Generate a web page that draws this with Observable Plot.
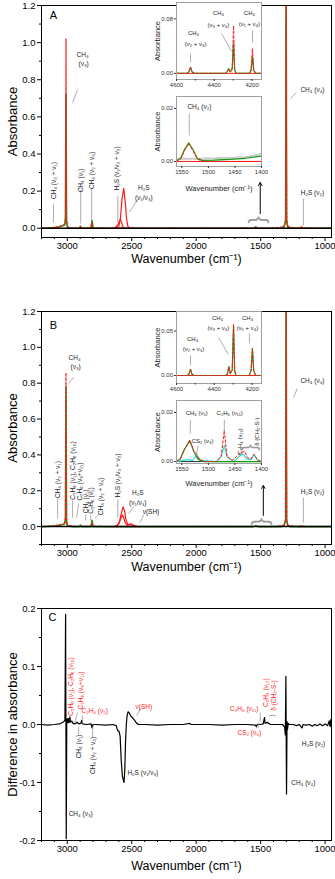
<!DOCTYPE html>
<html><head><meta charset="utf-8">
<script src="https://cdn.jsdelivr.net/npm/d3@7"></script>
<script src="https://cdn.jsdelivr.net/npm/@observablehq/plot@0.6"></script>
<style>
html,body{margin:0;padding:0;background:#fff}
#fig{position:relative;width:335px;height:879px;overflow:hidden;font-family:"Liberation Sans",Arial,sans-serif}
#fig svg{position:absolute;max-width:none}
</style></head><body><div id="fig"></div>
<script>
// ---------- ticks ----------
const xMajor = [3000, 2500, 2000, 1500, 1000];
const xMinor = [3200, 3100, 2900, 2800, 2700, 2600, 2400, 2300, 2200, 2100, 1900, 1800, 1700, 1600, 1400, 1300, 1200, 1100];
const yMajorAB = [0, 0.2, 0.4, 0.6, 0.8, 1.0, 1.2];
const yMinorA = [0.1, 0.3, 0.5, 0.7, 0.9, 1.1];
const yMinorB = [-0.1, 0.1, 0.3, 0.5, 0.7, 0.9, 1.1];
const yMajorC = [-0.2, -0.1, 0, 0.1, 0.2];
const yMinorC = [-0.15, -0.05, 0.05, 0.15];
const i1XMajor = [4600, 4400, 4200];
const i1XMinor = [4500, 4300];
const i2XMajor = [1550, 1500, 1450, 1400];
const aI1YTicks = [0, 0.08];
const bI1YTicks = [0, 0.05];
const i2YTicks = [0, 0.02];
const xTitle = "Wavenumber (cm⁻¹)";

// ---------- panel A spectra [wavenumber, absorbance] ----------
const aCH4Red = [[3200,0],[3150,0.001],[3100,0.004],[3070,0.008],[3045,0.013],[3030,0.018],[3020,0.022],[3014,0.06],[3010,1.02],[3006,0.05],[3000,0.012],[2990,0.003],[2960,0.001],[2904,0.001],[2898,0.009],[2892,0.001],[2820,0.002],[2808,0.03],[2800,0.002],[2700,0],[1560,0],[1545,0.002],[1537,0.006],[1528,0.001],[1515,0],[1400,0],[1360,0.003],[1330,0.008],[1315,0.012],[1306,0.05],[1302,1.3],[1298,0.05],[1290,0.012],[1270,0.006],[1240,0.002],[1200,0],[950,0]];
const aCH4Green = [[3200,0],[3150,0.001],[3100,0.003],[3060,0.008],[3035,0.013],[3020,0.018],[3014,0.05],[3010,0.72],[3006,0.04],[3000,0.01],[2990,0.002],[2960,0],[2904,0],[2898,0.011],[2892,0],[2815,0],[2808,0.042],[2800,0],[1560,0],[1545,0.002],[1537,0.007],[1528,0.001],[1515,0],[1340,0],[1320,0.005],[1306,0.04],[1302,1.3],[1298,0.04],[1290,0.005],[1270,0],[950,0]];
const aH2S1 = [[2660,0],[2630,0.004],[2610,0.015],[2598,0.035],[2588,0.048],[2578,0.03],[2570,0.01],[2560,0.002],[2540,0]];
const aH2S2 = [[2620,0],[2600,0.01],[2588,0.05],[2575,0.16],[2562,0.215],[2550,0.14],[2540,0.05],[2530,0.01],[2515,0.002],[2490,0]];
const aH2Sv2 = [[1210,0],[1190,0.002],[1183,0.008],[1176,0.002],[1160,0]];

// panel A insets
const aI1Red = [[4600,0],[4545,0],[4535,0.002],[4526,0.009],[4517,0.002],[4505,0],[4340,0],[4330,0.003],[4323,0.006],[4315,0.002],[4305,0.008],[4298,0.07],[4292,0.006],[4285,0],[4215,0],[4205,0.005],[4198,0.036],[4191,0.005],[4180,0],[4150,0]];
const aI1Green = [[4600,0],[4545,0],[4535,0.002],[4526,0.009],[4517,0.002],[4505,0],[4340,0],[4330,0.003],[4323,0.007],[4315,0.002],[4305,0.006],[4298,0.044],[4292,0.005],[4285,0],[4215,0],[4205,0.004],[4198,0.025],[4191,0.004],[4180,0],[4150,0]];
const aI2Red = [[1560,0],[1552,0.001],[1545,0.004],[1537,0.0068],[1529,0.004],[1521,0.001],[1512,0],[1400,0]];
const aI2Green = [[1560,0.0003],[1552,0.0012],[1545,0.0045],[1537,0.007],[1529,0.0045],[1521,0.0012],[1512,0.0004],[1490,0.0005],[1460,0.0008],[1430,0.0012],[1400,0.002]];
const aI2Gray1 = [[1560,0.0012],[1550,0.0015],[1540,0.001],[1530,0.0013],[1520,0.0011],[1505,0.0014],[1490,0.0012],[1475,0.0016],[1460,0.0013],[1445,0.0017],[1430,0.0018],[1415,0.0024],[1400,0.0031]];
const aI2Gray2 = [[1560,0.0007],[1540,0.0009],[1520,0.0008],[1500,0.001],[1480,0.0011],[1460,0.0012],[1440,0.0013],[1420,0.0019],[1400,0.0026]];

// ---------- panel B spectra ----------
const bCH4Red = [[3200,0],[3150,0.001],[3100,0.004],[3070,0.008],[3045,0.012],[3030,0.016],[3020,0.02],[3014,0.05],[3010,0.86],[3006,0.04],[3000,0.01],[2990,0.004],[2975,0.006],[2960,0.002],[2904,0.001],[2898,0.007],[2892,0.001],[2820,0.002],[2808,0.022],[2800,0.002],[2700,0],[1560,0],[1545,0.001],[1537,0.004],[1528,0.001],[1515,0],[1400,0],[1360,0.003],[1330,0.007],[1315,0.01],[1306,0.04],[1302,1.3],[1298,0.04],[1290,0.01],[1270,0.005],[1240,0.002],[1200,0],[950,0]];
const bCH4Green = [[3200,0],[3150,0.001],[3100,0.003],[3060,0.008],[3035,0.012],[3020,0.016],[3014,0.045],[3010,0.78],[3006,0.035],[3000,0.008],[2990,0.002],[2960,0],[2904,0],[2898,0.008],[2892,0],[2815,0],[2808,0.035],[2800,0],[1560,0],[1545,0.002],[1537,0.005],[1528,0.001],[1515,0],[1340,0],[1320,0.004],[1306,0.035],[1302,1.3],[1298,0.035],[1290,0.004],[1270,0],[950,0]];
const bH2S1 = [[2640,0],[2610,0.008],[2592,0.03],[2575,0.065],[2562,0.05],[2550,0.02],[2535,0.008],[2510,0.012],[2490,0.008],[2470,0.002],[2450,0]];
const bH2S2 = [[2620,0],[2600,0.015],[2585,0.06],[2568,0.11],[2556,0.09],[2545,0.04],[2530,0.01],[2505,0.015],[2485,0.006],[2460,0]];
const bH2Sv2 = [[1210,0],[1190,0.001],[1183,0.004],[1176,0.001],[1160,0]];

// panel B insets
const bI1Red = [[4600,0],[4545,0],[4535,0.001],[4526,0.007],[4517,0.001],[4505,0],[4340,0],[4330,0.002],[4323,0.01],[4315,0.002],[4305,0.006],[4298,0.058],[4292,0.005],[4285,0],[4215,0],[4205,0.006],[4198,0.031],[4191,0.005],[4180,0],[4150,0]];
const bI1Green = [[4600,0],[4545,0],[4535,0.001],[4526,0.007],[4517,0.001],[4505,0],[4340,0],[4330,0.002],[4323,0.01],[4315,0.002],[4305,0.006],[4298,0.056],[4292,0.005],[4285,0],[4215,0],[4205,0.006],[4198,0.03],[4191,0.005],[4180,0],[4150,0]];
const bI2Red = [[1560,0],[1553,0.001],[1545,0.005],[1535,0.0088],[1527,0.004],[1522,0.0032],[1517,0.001],[1508,0],[1485,0],[1476,0.002],[1470,0.0127],[1465,0.002],[1455,0.0005],[1447,0.002],[1440,0.0035],[1432,0.0042],[1426,0.0015],[1420,0.001],[1414,0.003],[1408,0.0008],[1400,0]];
const bI2Green = [[1560,0],[1553,0.001],[1545,0.005],[1535,0.0085],[1527,0.004],[1520,0.001],[1508,0],[1400,0]];
const bI2Cyan = [[1560,0],[1540,0.0008],[1530,0.0005],[1522,0.0025],[1516,0.0005],[1485,0],[1476,0.002],[1470,0.0065],[1465,0.002],[1452,0],[1445,0.0015],[1440,0.0025],[1434,0.003],[1428,0.001],[1420,0.0008],[1414,0.0028],[1408,0.0006],[1400,0]];

// ---------- panel C difference spectrum ----------
const cDiff = [[3200,0],[3150,-0.001],[3100,0],[3060,0.001],[3040,0.003],[3026,0.005],[3018,0.008],[3013,0.19],[3008,-0.197],[3004,0.005],[3000,0.01],[2996,0.003],[2990,0.01],[2986,0.003],[2980,0.013],[2975,0.004],[2965,0.006],[2955,0.002],[2940,0.001],[2925,0.004],[2910,0.001],[2895,0.002],[2888,0.007],[2882,0.001],[2850,0],[2815,0.001],[2808,-0.006],[2800,0],[2780,0],[2700,-0.001],[2650,0],[2620,-0.002],[2610,-0.01],[2598,-0.012],[2590,-0.02],[2582,-0.06],[2572,-0.09],[2560,-0.1],[2554,-0.08],[2548,-0.03],[2542,0],[2536,0.015],[2528,0.022],[2520,0.02],[2508,0.015],[2495,0.012],[2480,0.008],[2465,0.003],[2450,0],[2400,0],[2300,-0.001],[2200,0],[2100,0],[2050,0.002],[2040,0],[1900,0],[1800,-0.001],[1700,0],[1600,0],[1540,-0.001],[1533,-0.004],[1526,0],[1500,0],[1480,0.001],[1470,0.012],[1465,0.002],[1445,0.004],[1440,0.002],[1420,0],[1380,0],[1330,0],[1314,-0.004],[1308,-0.018],[1304,0.083],[1299,-0.12],[1295,0.005],[1291,-0.008],[1286,0.002],[1280,0],[1250,0],[1220,-0.002],[1200,0],[1185,-0.004],[1178,-0.006],[1170,0],[1150,-0.001],[1120,0],[1100,-0.003],[1080,0],[1060,-0.002],[1040,0.001],[1020,-0.002],[1000,0.001],[980,-0.002],[968,0.006],[962,-0.003],[958,0.008],[952,-0.004],[950,0.003]];

// ---------- annotations (data coordinates) ----------
const annA = [
  {label:"CH₄", x:2881, y:0.936},{label:"(ν₃)", x:2873, y:0.8875},
  {label:"H₂S", x:2406, y:0.219},{label:"(ν₁/ν₃)", x:2406, y:0.166},
  {label:"CH₄ (ν₄)", x:1098, y:0.747},{label:"H₂S (ν₂)", x:1098, y:0.192}];
const annARot = [
  {label:"CH₄ (ν₃ + ν₁)", x:3107, y:0.257},{label:"CH₄ (ν₁)", x:2896, y:0.257},
  {label:"CH₄ (ν₂ + ν₄)", x:2811, y:0.311},{label:"H₂S (ν₁/ν₃ + ν₂)", x:2612, y:0.322}];
const leadA = [
  {x1:3107,y1:0.133,x2:3107,y2:0.031},{x1:2896,y1:0.203,x2:2896,y2:0.025},
  {x1:2811,y1:0.214,x2:2811,y2:0.042},{x1:2608,y1:0.176,x2:2608,y2:0.031},
  {x1:2920,y1:0.747,x2:2959,y2:0.677},{x1:2453,y1:0.155,x2:2515,y2:0.09},
  {x1:1222,y1:0.731,x2:1269,y2:0.699},{x1:1168,y1:0.16,x2:1168,y2:0.015}];
const annB = [
  {label:"CH₄", x:2943, y:0.943},{label:"(ν₃)", x:2935, y:0.893},
  {label:"H₂S", x:2453, y:0.19},{label:"(ν₁/ν₃)", x:2453, y:0.134},
  {label:"ν(SH)", x:2351, y:0.084},
  {label:"CH₄ (ν₄)", x:1098, y:0.815},{label:"H₂S (ν₂)", x:1098, y:0.196}];
const annBRot = [
  {label:"CH₄ (ν₃ + ν₁)", x:3075, y:0.262},{label:"C₂H₆ (ν₁), C₂H₆ (ν₁₀)", x:2959, y:0.313},
  {label:"C₂H₆ (ν₈+ν₁₁)", x:2904, y:0.251},{label:"CH₄ (ν₁)", x:2857, y:0.14},
  {label:"C₂H₆ (ν₅)", x:2819, y:0.145},{label:"CH₄ (ν₂ + ν₄)", x:2741, y:0.168},
  {label:"H₂S (ν₁/ν₃ + ν₂)", x:2608, y:0.285}];
const leadB = [
  {x1:2951,y1:0.832,x2:2990,y2:0.798},{x1:3075,y1:0.156,x2:3075,y2:0.045},
  {x1:2959,y1:0.145,x2:2959,y2:0.05},{x1:2912,y1:0.128,x2:2927,y2:0.05},
  {x1:2857,y1:0.067,x2:2857,y2:0.034},{x1:2819,y1:0.062,x2:2819,y2:0.034},
  {x1:2748,y1:0.073,x2:2787,y2:0.045},{x1:2608,y1:0.151,x2:2608,y2:0.05},
  {x1:2484,y1:0.112,x2:2523,y2:0.073},{x1:2406,y1:0.067,x2:2437,y2:0.022},
  {x1:1215,y1:0.77,x2:1246,y2:0.72},{x1:1168,y1:0.162,x2:1168,y2:0.022}];
const annCRed = [
  {label:"C₂H₆ (ν₅)", x:2787, y:0.0241},{label:"ν(SH)", x:2406, y:0.031},
  {label:"C₂H₆ (ν₁₁)", x:1627, y:0.0276},{label:"CS₂ (ν₃)", x:1588, y:-0.0138}];
const annCRedRot = [
  {label:"C₂H₆ (ν₁), C₂H₆ (ν₁₀)", x:2974, y:0.0655},{label:"C₂H₆ (ν₈+ν₁₁)", x:2896, y:0.0586},
  {label:"C₂H₄ (ν₁₂)", x:1456, y:0.055},{label:"δ (CH₃-S-)", x:1394, y:0.05}];
const annCBlack = [
  {label:"H₂S (ν₁/ν₃)", x:2414, y:-0.0828},{label:"CH₄ (ν₃)", x:2896, y:-0.155},
  {label:"CH₄ (ν₄)", x:1168, y:-0.1},{label:"H₂S (ν₂)", x:1090, y:-0.0328}];
const annCBlackRot = [
  {label:"CH₄ (ν₁)", x:2912, y:-0.038},{label:"CH₄ (ν₂ + ν₄)", x:2803, y:-0.0534}];
const leadC = [
  {x1:2881,y1:0.0155,x2:2881,y2:0.0017},{x1:2943,y1:0.0034,x2:2920,y2:0.0207},
  {x1:2429,y1:0.0293,x2:2460,y2:0.0155},{x1:1503,y1:0.0207,x2:1503,y2:0.0052},
  {x1:1518,y1:0.0034,x2:1518,y2:-0.0069},{x1:2912,y1:-0.0034,x2:2912,y2:-0.017},
  {x1:2803,y1:-0.0034,x2:2803,y2:-0.0224}];
const annAI1 = [
  {label:"CH₄", x:4510, y:0.0587},{label:"(ν₂ + ν₃)", x:4499, y:0.0426},
  {label:"CH₄", x:4378, y:0.088},{label:"(ν₃ + ν₄)", x:4378, y:0.0704},
  {label:"CH₄", x:4214, y:0.088},{label:"(ν₁ + ν₄)", x:4214, y:0.0718}];
const leadAI1 = [{x1:4526,y1:0.0294,x2:4526,y2:0.0163},{x1:4362,y1:0.0587,x2:4309,y2:0.0324},{x1:4198,y1:0.063,x2:4198,y2:0.0455}];
const annAI2 = [{label:"CH₄ (ν₂)", x:1517, y:0.0204}];
const leadAI2 = [{x1:1536,y1:0.0181,x2:1536,y2:0.0098}];
const annBI1 = [
  {label:"CH₄", x:4515, y:0.0405},{label:"(ν₂ + ν₃)", x:4510, y:0.0293},
  {label:"CH₄", x:4383, y:0.0641},{label:"(ν₃ + ν₄)", x:4378, y:0.0529},
  {label:"CH₄", x:4224, y:0.0641},{label:"(ν₁ + ν₄)", x:4224, y:0.0529}];
const leadBI1 = [{x1:4526,y1:0.0225,x2:4526,y2:0.0113},{x1:4378,y1:0.0428,x2:4325,y2:0.0236},{x1:4214,y1:0.0473,x2:4214,y2:0.036}];
const annBI2 = [{label:"CH₄ (ν₂)", x:1522, y:0.0196},{label:"CS₂ (ν₃)", x:1511, y:0.0082},{label:"C₂H₆ (ν₁₁)", x:1460, y:0.0196}];
const annBI2Rot = [{label:"C₂H₄ (ν₁₂)", x:1441, y:0.0082},{label:"δ (CH₃-S-)", x:1408, y:0.0122}];
const leadBI2 = [{x1:1534,y1:0.0171,x2:1534,y2:0.0114},{x1:1519,y1:0.0065,x2:1522,y2:0.0037},{x1:1470,y1:0.0171,x2:1470,y2:0.0118}];
const bracesA = [{label:"{", x:1503, y:0.0443}];
const bracesB = [{label:"{", x:1479, y:0.028}];
const bracesC = [{label:"{", x:1401, y:0.0155}];
const bracesBI2 = [{label:"{", x:1419, y:0.0057}];
const arrowA = [{x1:1503, y1:0.079, x2:1503, y2:0.246}];
const arrowB = [{x1:1479, y1:0.062, x2:1479, y2:0.229}];
const letters = {A:{label:"A", x:3107, y:1.146}, B:{label:"B", x:3107, y:1.122}, C:{label:"C", x:3114, y:0.1845}};

// ---------- styles ----------
const FONT = '"Liberation Sans", Arial, sans-serif';
const RED = "#ff1a1a", GREEN = "#129a12", CYAN = "#2fe0cc", GRAY = "#9a9a9a";
const fig = document.getElementById("fig");
const XY = {x: d => d[0], y: d => d[1], clip: true};
const redDash = (d, w = 1.2) => Plot.line(d, {...XY, stroke: RED, strokeWidth: w, strokeDasharray: "2.5,2"});
const green = (d, w = 1.6) => Plot.line(d, {...XY, stroke: GREEN, strokeWidth: w});
const redSolid = d => Plot.line(d, {...XY, stroke: RED, strokeWidth: 1.2});
const txt = (d, o = {}) => Plot.text(d, {x: "x", y: "y", text: "label", fontSize: 6.5, fill: "#222", ...o});
const rot = (d, o = {}) => txt(d, {rotate: -90, ...o});
const lead = d => Plot.link(d, {x1: "x1", y1: "y1", x2: "x2", y2: "y2", stroke: GRAY, strokeWidth: 0.8});
const brace = (d, size) => txt(d, {rotate: 90, fontSize: size, fill: GRAY});

function place(svg, left, top) { svg.style.left = left + "px"; svg.style.top = top + "px"; fig.appendChild(svg); }

function mainPanel(o) {
  return Plot.plot({
    width: 335, height: o.height, marginLeft: 41, marginRight: 4, marginTop: o.mt, marginBottom: o.mb,
    x: {domain: [3200, 950]}, y: {domain: o.yDomain},
    style: {fontFamily: FONT, fontSize: "10px", color: "#000", background: "transparent", overflow: "visible"},
    marks: [
      ...o.marks,
      Plot.frame({stroke: "#000", strokeWidth: 1}),
      Plot.axisX({ticks: xMajor, tickSize: 4, tickPadding: 0.5, tickFormat: d => String(d), label: null, fontSize: 9.5}),
      Plot.axisX({ticks: xMinor, tickSize: 2, tickFormat: () => "", label: null}),
      Plot.axisY({ticks: o.yMajor, tickSize: 4, tickPadding: 2, tickFormat: d => d.toFixed(1), label: null, fontSize: 9.5}),
      Plot.axisY({ticks: o.yMinor, tickSize: 2, tickFormat: () => "", label: null}),
      Plot.text([xTitle], {text: d => d, frameAnchor: "bottom", lineAnchor: "middle", textAnchor: "middle", dy: o.titleDy, fontSize: 12.5, fill: "#000"}),
      Plot.text([o.yTitle], {text: d => d, frameAnchor: "left", lineAnchor: "middle", textAnchor: "middle", dx: -29, rotate: -90, fontSize: 13, fill: "#000"}),
      txt([o.letter], {fontSize: 11, fill: "#000"}),
      ...o.ann
    ]
  });
}

function inset(o) {
  return Plot.plot({
    width: 118, height: o.height, marginLeft: 30, marginRight: 3, marginTop: o.mt, marginBottom: o.mb,
    x: {domain: o.xDomain}, y: {domain: o.yDomain},
    style: {fontFamily: FONT, fontSize: "6px", color: "#333", background: "transparent", overflow: "visible"},
    marks: [
      Plot.frame({fill: "#fff", stroke: null}),
      ...o.marks,
      Plot.frame({stroke: "#a0a0a0", strokeWidth: 1}),
      Plot.axisX({ticks: o.xMajor, tickSize: 2, tickPadding: 1, tickFormat: d => String(d), label: null, fontSize: 6}),
      o.xMinor ? Plot.axisX({ticks: o.xMinor, tickSize: 1.5, tickFormat: () => "", label: null}) : null,
      Plot.axisY({ticks: o.yTicks, tickSize: 2, tickPadding: 1.5, tickFormat: o.yFmt, label: null, fontSize: 6}),
      Plot.text(["Absorbance"], {text: d => d, frameAnchor: "left", lineAnchor: "middle", textAnchor: "middle", dx: -19, rotate: -90, fontSize: 7.5, fill: "#222"}),
      o.xTitle ? Plot.text([xTitle], {text: d => d, frameAnchor: "bottom", lineAnchor: "middle", textAnchor: "middle", dy: o.titleDy, fontSize: 7.5, fill: "#222"}) : null,
      ...o.ann
    ]
  });
}

// ---------- Panel A ----------
place(mainPanel({
  height: 280, mt: 5, mb: 43, yDomain: [-0.05, 1.2], yMajor: yMajorAB, yMinor: yMinorA,
  yTitle: "Absorbance", titleDy: 21, letter: letters.A,
  marks: [green(aCH4Green), redDash(aCH4Red), redSolid(aH2S1), redSolid(aH2S2), redSolid(aH2Sv2),
          Plot.ruleY([0], {stroke: "#000", strokeWidth: 1.5})],
  ann: [lead(leadA), txt(annA), rot(annARot), brace(bracesA, 22),
        Plot.arrow(arrowA, {x1: "x1", y1: "y1", x2: "x2", y2: "y2", stroke: "#000", strokeWidth: 1, headLength: 5})]
}), 0, 0);

// ---------- Panel B ----------
place(mainPanel({
  height: 290, mt: 21, mb: 36, yDomain: [-0.1, 1.2], yMajor: yMajorAB, yMinor: yMinorB,
  yTitle: "Absorbance", titleDy: 22, letter: letters.B,
  marks: [green(bCH4Green), redDash(bCH4Red), redSolid(bH2S1), redSolid(bH2S2), redSolid(bH2Sv2),
          Plot.ruleY([0], {stroke: "#000", strokeWidth: 1.5})],
  ann: [lead(leadB), txt(annB), rot(annBRot), brace(bracesB, 22),
        Plot.arrow(arrowB, {x1: "x1", y1: "y1", x2: "x2", y2: "y2", stroke: "#000", strokeWidth: 1, headLength: 5})]
}), 0, 290);

// ---------- Panel C ----------
place(mainPanel({
  height: 299, mt: 28, mb: 39, yDomain: [-0.2, 0.2], yMajor: yMajorC, yMinor: yMinorC,
  yTitle: "Difference in absorbance", titleDy: 25, letter: letters.C,
  marks: [Plot.line(cDiff, {...XY, stroke: "#000", strokeWidth: 1.2})],
  ann: [lead(leadC), txt(annCRed, {fill: RED}), rot(annCRedRot, {fill: RED}), txt(annCBlack), rot(annCBlackRot), brace(bracesC, 8)]
}), 0, 580);

// ---------- Insets ----------
place(inset({
  height: 92, mt: 2, mb: 13, xDomain: [4600, 4150], yDomain: [-0.009, 0.104],
  xMajor: i1XMajor, xMinor: i1XMinor, yTicks: aI1YTicks, yFmt: d => d.toFixed(2),
  marks: [Plot.ruleY([0], {stroke: RED, strokeWidth: 1}), green(aI1Green, 1.2), redDash(aI1Red, 1)],
  ann: [lead(leadAI1), txt(annAI1, {fontSize: 6})]
}), 146, 0);

place(inset({
  height: 106, mt: 6, mb: 30, xDomain: [1560, 1400], yDomain: [-0.0019, 0.0245],
  xMajor: i2XMajor, yTicks: i2YTicks, yFmt: d => d.toFixed(2), xTitle: true, titleDy: 22,
  marks: [Plot.line(aI2Gray1, {...XY, stroke: "#c4c4c4", strokeWidth: 1}), Plot.line(aI2Gray2, {...XY, stroke: "#c4c4c4", strokeWidth: 1}),
          Plot.ruleY([0], {stroke: RED, strokeWidth: 1}), green(aI2Green, 1.2), redDash(aI2Red, 1)],
  ann: [lead(leadAI2), txt(annAI2, {fontSize: 6.5})]
}), 146, 90);

place(inset({
  height: 90, mt: 6, mb: 12, xDomain: [4600, 4150], yDomain: [-0.009, 0.072],
  xMajor: i1XMajor, xMinor: i1XMinor, yTicks: bI1YTicks, yFmt: d => d.toFixed(2),
  marks: [Plot.ruleY([0], {stroke: RED, strokeWidth: 1}), green(bI1Green, 1.2), redDash(bI1Red, 1)],
  ann: [lead(leadBI1), txt(annBI1, {fontSize: 6})]
}), 146, 305);

place(inset({
  height: 100, mt: 5, mb: 32, xDomain: [1560, 1400], yDomain: [-0.0008, 0.0249],
  xMajor: i2XMajor, yTicks: i2YTicks, yFmt: d => d.toFixed(2), xTitle: true, titleDy: 20,
  marks: [Plot.ruleY([0], {stroke: "#333", strokeWidth: 1}), Plot.line(bI2Cyan, {...XY, stroke: CYAN, strokeWidth: 1.2}),
          green(bI2Green, 1.2), redDash(bI2Red, 1)],
  ann: [lead(leadBI2), txt(annBI2, {fontSize: 6}), rot(annBI2Rot, {fontSize: 6}), brace(bracesBI2, 20)]
}), 146, 395);
</script>
</body></html>
